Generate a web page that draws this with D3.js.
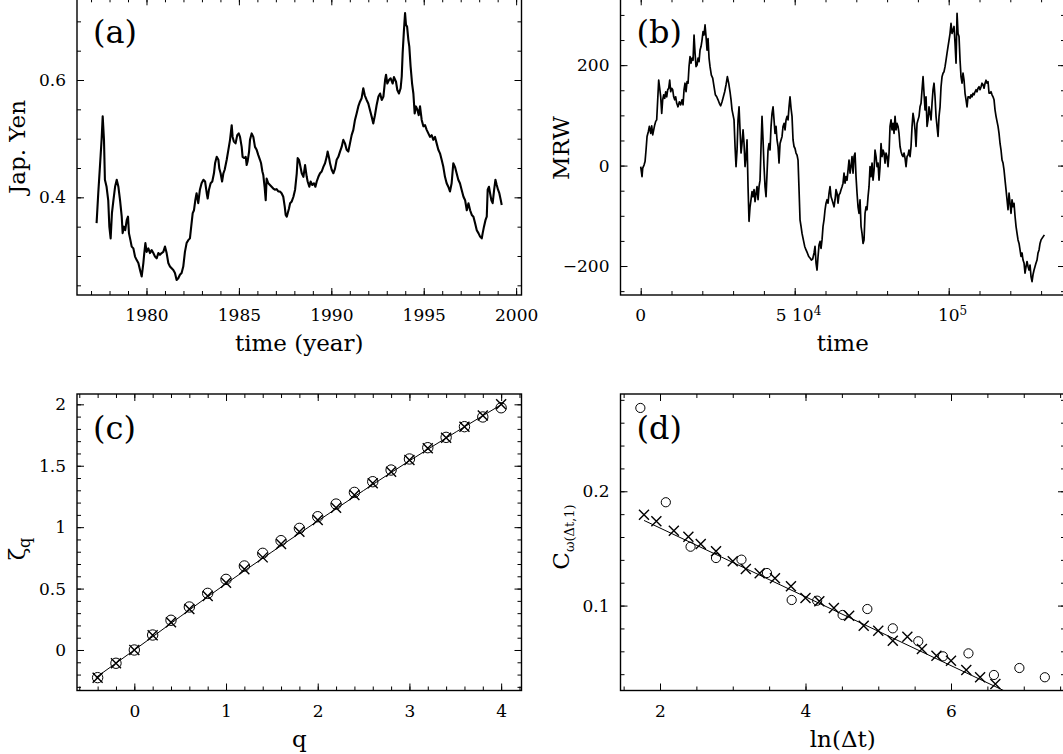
<!DOCTYPE html>
<html>
<head>
<meta charset="utf-8">
<script src="https://cdn.jsdelivr.net/npm/d3@7"></script>
<style>
  body { margin: 0; background: #fff; }
  svg { display: block; }
</style>
</head>
<body>
<script>
// ---- panel (a): Japanese Yen exchange rate ----
const yenYear = [1977.30,1977.39,1977.48,1977.57,1977.63,1977.70,1977.75,1977.84,1977.93,1977.99,
  1978.06,1978.13,1978.21,1978.30,1978.39,1978.48,1978.57,1978.66,1978.71,1978.78,
  1978.85,1978.93,1979.00,1979.05,1979.13,1979.20,1979.29,1979.38,1979.47,1979.56,
  1979.65,1979.74,1979.83,1979.88,1979.94,1980.01,1980.10,1980.19,1980.28,1980.37,
  1980.46,1980.55,1980.64,1980.73,1980.82,1980.91,1981.00,1981.09,1981.18,1981.27,
  1981.36,1981.45,1981.54,1981.63,1981.72,1981.81,1981.90,1981.99,1982.08,1982.17,
  1982.26,1982.35,1982.44,1982.50,1982.57,1982.64,1982.71,1982.80,1982.89,1982.98,
  1983.08,1983.17,1983.26,1983.31,1983.38,1983.47,1983.56,1983.65,1983.71,1983.80,
  1983.89,1983.94,1984.01,1984.09,1984.16,1984.23,1984.34,1984.43,1984.52,1984.61,
  1984.66,1984.73,1984.82,1984.91,1984.99,1985.06,1985.15,1985.20,1985.29,1985.37,
  1985.42,1985.47,1985.55,1985.60,1985.69,1985.78,1985.87,1985.96,1986.05,1986.14,
  1986.20,1986.27,1986.32,1986.39,1986.45,1986.50,1986.59,1986.68,1986.77,1986.86,
  1986.95,1987.04,1987.13,1987.22,1987.31,1987.40,1987.48,1987.53,1987.59,1987.64,
  1987.71,1987.77,1987.86,1987.95,1988.04,1988.13,1988.18,1988.25,1988.31,1988.40,
  1988.49,1988.58,1988.67,1988.72,1988.81,1988.88,1988.97,1989.06,1989.14,1989.21,
  1989.30,1989.39,1989.48,1989.57,1989.66,1989.75,1989.80,1989.88,1989.93,1990.02,
  1990.11,1990.20,1990.29,1990.38,1990.47,1990.56,1990.65,1990.74,1990.83,1990.92,
  1991.01,1991.10,1991.19,1991.28,1991.37,1991.46,1991.55,1991.64,1991.73,1991.81,
  1991.91,1992.00,1992.09,1992.18,1992.27,1992.36,1992.45,1992.55,1992.64,1992.73,
  1992.82,1992.91,1992.96,1993.03,1993.12,1993.21,1993.32,1993.39,1993.50,1993.57,
  1993.66,1993.75,1993.81,1993.86,1993.93,1993.99,1994.04,1994.10,1994.17,1994.22,
  1994.29,1994.37,1994.44,1994.51,1994.58,1994.66,1994.73,1994.80,1994.89,1994.98,
  1995.07,1995.16,1995.25,1995.34,1995.43,1995.52,1995.61,1995.70,1995.79,1995.88,
  1995.97,1996.06,1996.15,1996.24,1996.33,1996.42,1996.51,1996.60,1996.69,1996.78,
  1996.87,1996.96,1997.05,1997.15,1997.24,1997.33,1997.42,1997.51,1997.60,1997.69,
  1997.78,1997.87,1997.96,1998.05,1998.14,1998.19,1998.26,1998.34,1998.41,1998.46,
  1998.53,1998.59,1998.66,1998.73,1998.81,1998.88,1998.95,1999.02,1999.09,1999.17,
  1999.22];
const yenRate = [0.356,0.407,0.452,0.498,0.538,0.498,0.430,0.418,0.395,0.350,
  0.330,0.373,0.395,0.418,0.430,0.418,0.395,0.367,0.339,0.350,
  0.344,0.361,0.367,0.339,0.327,0.316,0.313,0.299,0.293,0.288,
  0.276,0.265,0.288,0.305,0.322,0.307,0.313,0.305,0.310,0.305,
  0.299,0.296,0.305,0.302,0.305,0.307,0.316,0.305,0.288,0.282,
  0.279,0.276,0.271,0.259,0.262,0.268,0.271,0.282,0.307,0.322,
  0.327,0.330,0.356,0.373,0.378,0.395,0.407,0.390,0.413,0.424,
  0.430,0.427,0.407,0.398,0.413,0.424,0.427,0.441,0.458,0.469,
  0.464,0.449,0.441,0.427,0.441,0.447,0.464,0.481,0.498,0.523,
  0.503,0.495,0.492,0.506,0.509,0.503,0.486,0.469,0.467,0.469,
  0.455,0.461,0.478,0.498,0.509,0.503,0.486,0.481,0.472,0.464,
  0.458,0.444,0.438,0.418,0.395,0.432,0.424,0.421,0.418,0.415,
  0.413,0.414,0.410,0.410,0.407,0.401,0.384,0.370,0.367,0.373,
  0.381,0.390,0.393,0.401,0.413,0.441,0.467,0.464,0.455,0.441,
  0.435,0.455,0.435,0.427,0.418,0.427,0.421,0.424,0.418,0.427,
  0.435,0.441,0.444,0.452,0.458,0.469,0.478,0.467,0.458,0.447,
  0.441,0.449,0.464,0.469,0.478,0.486,0.498,0.492,0.481,0.478,
  0.492,0.506,0.515,0.532,0.543,0.555,0.563,0.569,0.586,0.574,
  0.566,0.560,0.549,0.538,0.526,0.540,0.557,0.572,0.577,0.566,
  0.572,0.600,0.609,0.594,0.600,0.603,0.594,0.605,0.597,0.583,
  0.577,0.586,0.606,0.646,0.685,0.714,0.694,0.691,0.668,0.657,
  0.623,0.594,0.577,0.543,0.555,0.549,0.540,0.555,0.532,0.521,
  0.523,0.515,0.509,0.503,0.506,0.498,0.503,0.492,0.481,0.475,
  0.464,0.452,0.435,0.424,0.418,0.410,0.424,0.458,0.452,0.441,
  0.430,0.424,0.413,0.401,0.395,0.378,0.390,0.378,0.370,0.367,
  0.356,0.344,0.339,0.333,0.330,0.339,0.350,0.361,0.367,0.413,
  0.418,0.407,0.395,0.390,0.413,0.430,0.421,0.413,0.407,0.395,
  0.387];

// ---- panel (b): MRW sample path, time in units of 10^4 ----
const mrwTime = [0.000,0.022,0.043,0.065,0.108,0.141,0.173,0.206,0.249,0.281,
  0.325,0.357,0.390,0.422,0.455,0.487,0.519,0.552,0.584,0.617,
  0.649,0.682,0.714,0.747,0.779,0.812,0.844,0.877,0.909,0.942,
  0.974,1.006,1.039,1.071,1.104,1.136,1.169,1.212,1.255,1.299,
  1.342,1.375,1.407,1.439,1.472,1.504,1.537,1.569,1.602,1.634,
  1.667,1.699,1.732,1.764,1.797,1.829,1.862,1.894,1.926,1.959,
  1.991,2.024,2.056,2.089,2.121,2.154,2.186,2.219,2.251,2.294,
  2.338,2.381,2.424,2.468,2.511,2.554,2.597,2.641,2.684,2.727,
  2.771,2.814,2.857,2.900,2.933,2.965,2.998,3.030,3.063,3.095,
  3.128,3.160,3.193,3.225,3.258,3.290,3.323,3.355,3.387,3.420,
  3.452,3.485,3.517,3.550,3.582,3.615,3.647,3.680,3.712,3.745,
  3.777,3.810,3.842,3.874,3.907,3.939,3.972,4.004,4.037,4.069,
  4.102,4.134,4.167,4.199,4.232,4.264,4.297,4.329,4.361,4.394,
  4.426,4.459,4.491,4.524,4.556,4.589,4.621,4.654,4.686,4.719,
  4.751,4.784,4.816,4.848,4.881,4.913,4.946,4.978,5.011,5.043,
  5.076,5.108,5.141,5.173,5.206,5.238,5.281,5.325,5.368,5.411,
  5.455,5.498,5.541,5.584,5.628,5.660,5.693,5.725,5.758,5.790,
  5.823,5.855,5.887,5.920,5.952,5.985,6.017,6.050,6.082,6.115,
  6.147,6.180,6.212,6.245,6.277,6.310,6.342,6.374,6.407,6.439,
  6.472,6.504,6.537,6.569,6.602,6.634,6.667,6.699,6.732,6.764,
  6.797,6.829,6.861,6.894,6.926,6.959,6.991,7.024,7.056,7.089,
  7.121,7.154,7.186,7.219,7.251,7.284,7.316,7.348,7.381,7.413,
  7.446,7.478,7.511,7.543,7.576,7.608,7.641,7.673,7.706,7.738,
  7.771,7.803,7.835,7.868,7.900,7.933,7.965,7.998,8.030,8.063,
  8.095,8.128,8.160,8.193,8.225,8.258,8.290,8.323,8.355,8.387,
  8.420,8.452,8.485,8.517,8.550,8.582,8.615,8.647,8.680,8.712,
  8.745,8.777,8.810,8.842,8.874,8.907,8.939,8.972,9.004,9.037,
  9.069,9.102,9.134,9.167,9.199,9.232,9.264,9.297,9.329,9.361,
  9.394,9.426,9.459,9.491,9.524,9.556,9.589,9.621,9.654,9.686,
  9.719,9.751,9.784,9.816,9.848,9.881,9.913,9.946,9.978,10.011,
  10.043,10.076,10.108,10.141,10.173,10.206,10.238,10.271,10.303,10.335,
  10.368,10.400,10.433,10.465,10.498,10.530,10.563,10.595,10.628,10.660,
  10.693,10.725,10.758,10.790,10.823,10.855,10.887,10.920,10.952,10.985,
  11.017,11.050,11.082,11.115,11.147,11.180,11.212,11.245,11.277,11.310,
  11.342,11.374,11.407,11.439,11.472,11.504,11.537,11.569,11.602,11.634,
  11.667,11.699,11.732,11.764,11.797,11.829,11.861,11.894,11.926,11.959,
  11.991,12.024,12.056,12.089,12.121,12.154,12.186,12.219,12.251,12.284,
  12.316,12.348,12.381,12.413,12.446,12.478,12.511,12.543,12.576,12.608,
  12.641,12.673,12.706,12.738,12.771,12.803,12.835,12.868,12.900,12.933,
  12.965,12.998,13.030,13.074,13.106];
const mrwValue = [-2,-12,-22,-5,1,8,31,58,68,78,
  64,79,61,71,81,88,91,131,170,154,
  137,104,131,141,134,147,137,151,154,170,
  147,154,151,137,131,137,124,117,127,121,
  131,121,151,164,147,167,164,197,217,204,
  214,210,260,224,197,200,214,207,230,237,
  250,267,260,280,257,230,253,214,197,180,
  174,157,141,137,131,124,119,127,137,147,
  161,177,164,147,131,111,101,91,38,-2,
  31,91,117,71,25,44,71,44,-2,18,
  51,-42,-111,-82,-68,-52,-62,-48,-72,-55,
  -42,-68,-42,-29,38,98,51,-2,-42,-62,
  -15,31,44,31,78,104,117,91,64,78,
  51,38,5,44,51,58,78,84,71,91,
  98,91,117,137,114,98,51,38,34,25,
  21,11,-48,-108,-121,-135,-148,-161,-168,-174,
  -181,-184,-188,-186,-174,-161,-194,-208,-181,-158,
  -151,-165,-148,-121,-108,-88,-75,-68,-75,-55,
  -42,-62,-68,-75,-82,-68,-48,-55,-75,-58,
  -55,-48,-42,-35,-15,-35,-22,-29,-9,11,
  -15,-2,18,-15,18,25,-22,-55,-82,-95,
  -68,-121,-135,-155,-148,-95,-82,-88,-62,-42,
  -2,-22,5,-29,-9,31,18,-2,5,-29,
  -2,44,18,31,25,5,25,18,-2,25,
  78,91,71,84,64,98,71,84,78,64,
  38,28,21,18,25,15,-2,18,21,31,
  18,38,78,104,91,71,38,84,91,98,
  117,124,151,177,144,111,137,78,91,117,
  104,91,124,151,164,137,98,78,58,98,
  117,157,177,184,187,197,210,224,237,250,
  263,283,263,270,277,243,204,303,263,257,
  210,177,164,184,170,144,131,117,137,137,
  134,141,137,144,141,147,151,147,154,157,
  151,157,164,161,154,164,170,164,167,144,
  144,147,141,137,131,111,98,88,78,64,
  44,31,11,5,-9,-29,-48,-68,-88,-55,
  -75,-95,-68,-82,-75,-101,-121,-135,-148,-155,
  -168,-181,-174,-188,-194,-214,-201,-191,-201,-208,
  -198,-221,-231,-217,-208,-201,-194,-188,-174,-168,
  -155,-148,-145,-141,-138];

// ---- panel (c): scaling exponents zeta_q ----
const qValues = [-0.4,-0.2,0,0.2,0.4,0.6,0.8,1.0,1.2,1.4,1.6,1.8,2.0,2.2,2.4,2.6,2.8,3.0,3.2,3.4,3.6,3.8,4.0];
const zetaCircle = [-0.225,-0.108,0,0.122,0.242,0.350,0.461,0.575,0.684,0.787,0.890,0.990,1.085,1.188,1.283,1.370,1.465,1.555,1.647,1.731,1.818,1.897,1.972];
const zetaCross = [-0.225,-0.108,0,0.120,0.225,0.334,0.440,0.548,0.657,0.754,0.863,0.963,1.058,1.158,1.262,1.357,1.452,1.547,1.642,1.728,1.818,1.908,2.000];
const zetaFitQ = [-0.42,0,1,2,3,4.03];
const zetaFit = [-0.225,0,0.54,1.05,1.54,2.01];

// ---- panel (d): magnitude correlation vs ln(dt) ----
const corrCrossLn = [1.78,1.95,2.19,2.39,2.56,2.77,3.00,3.18,3.37,3.58,3.80,4.00,4.19,4.39,4.60,4.80,5.00,5.20,5.40,5.60,5.80,6.00,6.21,6.40,6.61];
const corrCross = [0.1795,0.1738,0.1655,0.1603,0.1539,0.1475,0.1388,0.1320,0.1283,0.1239,0.1169,0.1067,0.1038,0.0979,0.0912,0.0824,0.0780,0.0693,0.0728,0.0620,0.0562,0.0518,0.0437,0.0373,0.0314];
const corrCircleLn = [1.73,2.08,2.42,2.77,3.12,3.47,3.81,4.16,4.51,4.85,5.20,5.55,5.89,6.24,6.59,6.94,7.29];
const corrCircle = [0.2729,0.1904,0.1515,0.1416,0.1402,0.1285,0.1049,0.1043,0.0918,0.0970,0.0801,0.0688,0.0556,0.0582,0.0393,0.0454,0.0373];
const corrFitLn = [1.78,6.90];
const corrFit = [0.1745,0.0204];

// tick values
const yenTicksX = [1980,1985,1990,1995,2000];
const yenTicksY = [0.4,0.6];
const mrwTicksY = [-200,0,200];
const mrwTickLabels = [{t: 0, base: '0', sup: ''}, {t: 5, base: '5 10', sup: '4'}, {t: 10, base: '10', sup: '5'}];
const zetaTicksX = [0,1,2,3,4];
const zetaTicksY = [0,0.5,1,1.5,2];
const corrTicksX = [2,4,6];
const corrTicksY = [0.1,0.2];

const FONT = "'DejaVu Serif', serif";
const TICK_FONT = 17;
const svg = d3.select('body').append('svg')
  .attr('width', 1063)
  .attr('height', 754);

const boxA = {left: 77, right: 521.5, top: -1.7, bottom: 295};
const boxB = {left: 620.5, right: 1065, top: -1.7, bottom: 295};
const boxC = {left: 77, right: 521.5, top: 394, bottom: 690.5};
const boxD = {left: 620.5, right: 1065, top: 394, bottom: 690.5};

function addAxis(box, orient, scale, values, size, fmt) {
  const make = {bottom: d3.axisBottom, top: d3.axisTop, left: d3.axisLeft, right: d3.axisRight}[orient];
  const axis = make(scale)
    .tickValues(values)
    .tickSize(-size)
    .tickPadding(orient === 'bottom' ? 14 : 11)
    .tickFormat(fmt || (() => ''));
  const pos = {bottom: [0, box.bottom], top: [0, box.top], left: [box.left, 0], right: [box.right, 0]}[orient];
  const g = svg.append('g')
    .attr('transform', 'translate(' + pos[0] + ',' + pos[1] + ')')
    .call(axis);
  g.select('.domain').remove();
  g.attr('font-family', FONT).attr('font-size', TICK_FONT);
  g.selectAll('.tick line').attr('stroke', '#000').attr('stroke-width', 1);
  g.selectAll('.tick text').attr('fill', '#000');
}

function panel(id, box, xDomain, yDomain, xMajor, xMinor, yMajor, yMinor, xFmt, yFmt) {
  const x = d3.scaleLinear().domain(xDomain).range([box.left, box.right]);
  const y = d3.scaleLinear().domain(yDomain).range([box.bottom, box.top]);
  addAxis(box, 'bottom', x, xMinor, 4);
  addAxis(box, 'bottom', x, xMajor, 7, xFmt);
  addAxis(box, 'top', x, xMinor, 4);
  addAxis(box, 'top', x, xMajor, 7);
  addAxis(box, 'left', y, yMinor, 4);
  addAxis(box, 'left', y, yMajor, 7, yFmt);
  addAxis(box, 'right', y, yMinor, 4);
  addAxis(box, 'right', y, yMajor, 7);
  svg.append('rect')
    .attr('x', box.left).attr('y', box.top)
    .attr('width', box.right - box.left).attr('height', box.bottom - box.top)
    .attr('fill', 'none').attr('stroke', '#000').attr('stroke-width', 1.4);
  svg.append('clipPath').attr('id', 'clip-' + id)
    .append('rect')
    .attr('x', box.left).attr('y', box.top)
    .attr('width', box.right - box.left).attr('height', box.bottom - box.top);
  return {x, y};
}

function panelLabel(box, txt) {
  svg.append('text')
    .attr('x', box.left + 16).attr('y', box.top + 45)
    .attr('font-family', FONT).attr('font-size', 32)
    .text(txt);
}

function xTitle(box, txt) {
  svg.append('text')
    .attr('x', (box.left + box.right) / 2).attr('y', box.bottom + 56)
    .attr('text-anchor', 'middle')
    .attr('font-family', FONT).attr('font-size', 23)
    .text(txt);
}

function yTitle(box, cy) {
  return svg.append('text')
    .attr('transform', 'translate(' + (box.left - 52) + ',' + cy + ') rotate(-90)')
    .attr('text-anchor', 'middle')
    .attr('font-family', FONT).attr('font-size', 23);
}

const fmt = d3.format('~g');
const crossPath = (s) => 'M' + (-s) + ',' + (-s) + 'L' + s + ',' + s + 'M' + (-s) + ',' + s + 'L' + s + ',' + (-s);

// ---------- (a) ----------
const A = panel('a', boxA, [1976.24, 2000.29], [0.2335, 0.7393],
  yenTicksX, d3.range(1977, 2001), yenTicksY, d3.range(0.25, 0.74, 0.05), fmt, fmt);
svg.append('path')
  .datum(yenYear.map((d, i) => [d, yenRate[i]]))
  .attr('clip-path', 'url(#clip-a)')
  .attr('fill', 'none').attr('stroke', '#000').attr('stroke-width', 2.1)
  .attr('stroke-linejoin', 'round')
  .attr('d', d3.line().x(d => A.x(d[0])).y(d => A.y(d[1])));
panelLabel(boxA, '(a)');
xTitle(boxA, 'time (year)');
yTitle(boxA, 147).text('Jap. Yen');

// ---------- (b) ----------
const B = panel('b', boxB, [-0.656, 13.776], [-257.7, 333.1],
  [0, 5, 10], d3.range(0, 14), mrwTicksY, d3.range(-250, 333, 50), null, fmt);
svg.append('path')
  .datum(mrwTime.map((d, i) => [d, mrwValue[i]]))
  .attr('clip-path', 'url(#clip-b)')
  .attr('fill', 'none').attr('stroke', '#000').attr('stroke-width', 1.7)
  .attr('stroke-linejoin', 'round')
  .attr('d', d3.line().x(d => B.x(d[0])).y(d => B.y(d[1])));
mrwTickLabels.forEach(l => {
  const t = svg.append('text')
    .attr('y', boxB.bottom + 26)
    .attr('font-family', FONT).attr('font-size', TICK_FONT);
  t.append('tspan').text(l.base);
  const w = t.node().getComputedTextLength();
  t.attr('x', B.x(l.t) - w / 2);
  if (l.sup) t.append('tspan').attr('dy', -6).attr('font-size', 12).text(l.sup);
});
panelLabel(boxB, '(b)');
xTitle(boxB, 'time');
yTitle(boxB, 148).text('MRW');

// ---------- (c) ----------
const C = panel('c', boxC, [-0.625, 4.222], [-0.3297, 2.084],
  zetaTicksX, d3.range(-0.6, 4.21, 0.2), zetaTicksY, d3.range(-0.3, 2.05, 0.1), fmt, fmt);
svg.append('path')
  .datum(zetaFitQ.map((d, i) => [d, zetaFit[i]]))
  .attr('clip-path', 'url(#clip-c)')
  .attr('fill', 'none').attr('stroke', '#000').attr('stroke-width', 1)
  .attr('d', d3.line().curve(d3.curveMonotoneX).x(d => C.x(d[0])).y(d => C.y(d[1])));
svg.append('g').selectAll('circle')
  .data(qValues)
  .join('circle')
  .attr('cx', d => C.x(d))
  .attr('cy', (d, i) => C.y(zetaCircle[i]))
  .attr('r', 5.2)
  .attr('fill', 'none').attr('stroke', '#000').attr('stroke-width', 1);
svg.append('g').selectAll('path')
  .data(qValues)
  .join('path')
  .attr('transform', (d, i) => 'translate(' + C.x(d) + ',' + C.y(zetaCross[i]) + ')')
  .attr('d', crossPath(5))
  .attr('stroke', '#000').attr('stroke-width', 1.4);
panelLabel(boxC, '(c)');
xTitle(boxC, 'q');
const yc = yTitle(boxC, 549);
yc.append('tspan').text('ζ');
yc.append('tspan').attr('dy', 5).attr('font-size', 16).text('q');

// ---------- (d) ----------
const D = panel('d', boxD, [1.457, 7.567], [0.02572, 0.2851],
  corrTicksX, d3.range(1.5, 7.6, 0.5), corrTicksY, d3.range(0.04, 0.285, 0.02), fmt, fmt);
svg.append('path')
  .datum(corrFitLn.map((d, i) => [d, corrFit[i]]))
  .attr('clip-path', 'url(#clip-d)')
  .attr('fill', 'none').attr('stroke', '#000').attr('stroke-width', 1)
  .attr('d', d3.line().x(d => D.x(d[0])).y(d => D.y(d[1])));
svg.append('g').selectAll('circle')
  .data(corrCircleLn)
  .join('circle')
  .attr('cx', d => D.x(d))
  .attr('cy', (d, i) => D.y(corrCircle[i]))
  .attr('r', 4.6)
  .attr('fill', 'none').attr('stroke', '#000').attr('stroke-width', 1);
svg.append('g').selectAll('path')
  .data(corrCrossLn)
  .join('path')
  .attr('transform', (d, i) => 'translate(' + D.x(d) + ',' + D.y(corrCross[i]) + ')')
  .attr('d', crossPath(5))
  .attr('stroke', '#000').attr('stroke-width', 1.4);
panelLabel(boxD, '(d)');
xTitle(boxD, 'ln(Δt)');
const yd = yTitle(boxD, 537);
yd.append('tspan').text('C');
yd.append('tspan').attr('dy', 5).attr('font-size', 13).text('ω(Δt,1)');
</script>
</body>
</html>
